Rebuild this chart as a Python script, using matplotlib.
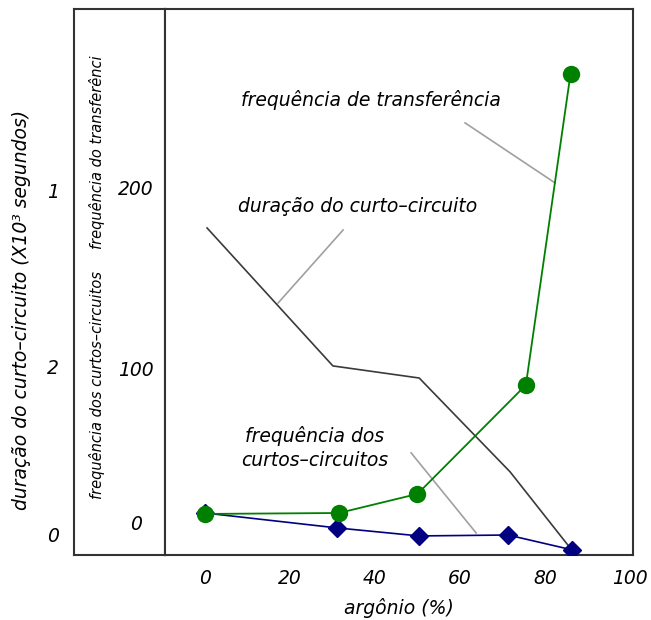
import matplotlib.pyplot as plt

plt.rcParams['font.family'] = ['DejaVu Sans']
plt.rcParams['font.style'] = 'italic'

# eixo x: argônio (%)
argonio_transf = [0, 31.5, 50, 75.5, 86]
freq_transferencia = [7.1, 7.7, 20, 90.3, 291]

argonio_curtos = [0, 31, 50.4, 71.3, 86.4]
freq_curtos = [7.7, -1.9, -7.1, -6.5, -16.1]

argonio_duracao = [0.5, 30.1, 50.4, 71.8, 85.9]
duracao = [191.6, 102.6, 94.8, 34.2, -14.8]

xticks = [0, 20, 40, 60, 80, 100]

# linhas de chamada (x0, x1), (y0, y1)
chamadas = [
    ([61.2, 82.4], [259.4, 220.6]),
    ([17.2, 32.5], [143.2, 190.3]),
    ([48.5, 63.8], [46.5, -5.2]),
]

fig = plt.figure(figsize=(6.51, 6.20), dpi=100)
W, H = 651, 620

def fx(px):
    return px / W

def fy(py):
    return 1 - py / H

cor_borda = '#333333'
fs = 13.5

# painel da esquerda (só a moldura)
ax_esq = fig.add_axes([fx(74), fy(555), fx(165 - 74), (555 - 9) / H])
ax_esq.set_xticks([])
ax_esq.set_yticks([])
for s in ax_esq.spines.values():
    s.set_color(cor_borda)
    s.set_linewidth(1.5)

ax = fig.add_axes([fx(165), fy(555), fx(633 - 165), (555 - 9) / H])
for s in ax.spines.values():
    s.set_color(cor_borda)
    s.set_linewidth(1.5)

ax.plot(argonio_duracao, duracao, color='#3a3a3a', lw=1.2, zorder=2)
for xs, ys in chamadas:
    ax.plot(xs, ys, color='#a0a0a0', lw=1.2, zorder=1)
ax.plot(argonio_curtos, freq_curtos, color='#000080', lw=1.2, marker='D',
        markersize=9, zorder=3)
ax.plot(argonio_transf, freq_transferencia, color='#008000', lw=1.3, marker='o',
        markersize=11.5, zorder=4)

ax.text(39, 274.2, 'frequência de transferência', ha='center', va='center', fontsize=fs)
ax.text(36, 205.2, 'duração do curto–circuito', ha='center', va='center', fontsize=fs)
ax.text(25.9, 49.7, 'frequência dos\ncurtos–circuitos', ha='center', va='center',
        fontsize=fs, linespacing=1.35)

ax.set_xlim(-9.4, 100.7)
ax.set_ylim(-19.4, 332.9)
ax.set_xticks(xticks)
ax.set_xticklabels([str(v) for v in xticks], fontsize=fs)
ax.set_yticks([])
ax.tick_params(axis='x', length=0, pad=10)
ax.set_xlabel('argônio (%)', fontsize=fs, labelpad=7)

# textos do lado esquerdo
fig.text(fx(22), fy(310), 'duração do curto–circuito (X10³ segundos)', rotation=90,
         ha='center', va='center', fontsize=fs)
for t, py in [('1', 193), ('2', 368), ('0', 537)]:
    fig.text(fx(53), fy(py), t, ha='center', va='center', fontsize=fs)
for t, py in [('200', 190), ('100', 370), ('0', 525)]:
    fig.text(fx(136), fy(py), t, ha='center', va='center', fontsize=fs)
fig.text(fx(97), fy(152), 'frequência do transferênci', rotation=90,
         ha='center', va='center', fontsize=10.5)
fig.text(fx(97), fy(385), 'frequência dos curtos–circuitos', rotation=90,
         ha='center', va='center', fontsize=10.5)

fig.savefig('out.png', dpi=100)
